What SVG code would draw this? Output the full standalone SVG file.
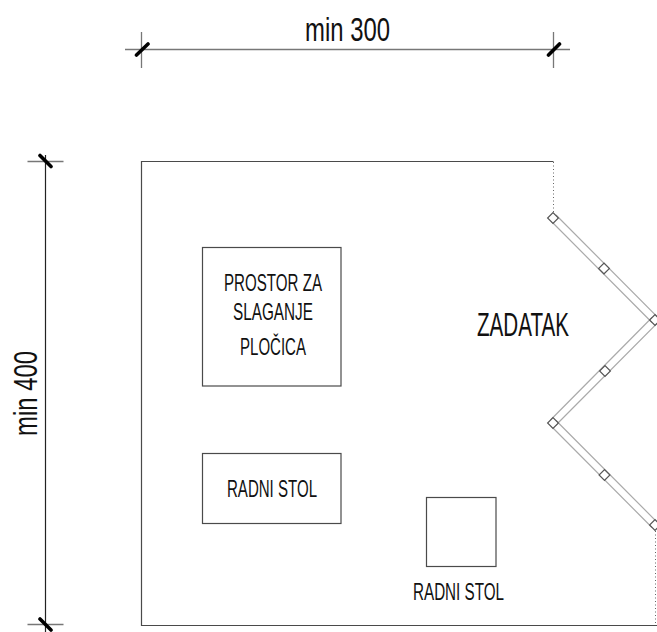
<svg xmlns="http://www.w3.org/2000/svg" width="657" height="632" viewBox="0 0 657 632">
<style>
.wall{fill:none;stroke:#4a4a4a;stroke-width:1.2}
.dim{fill:none;stroke:#777;stroke-width:1.3}
.dimd{fill:none;stroke:#222;stroke-width:1.2}
.tick{fill:none;stroke:#000;stroke-width:3.6;stroke-linecap:round}
.dot{fill:none;stroke:#666;stroke-width:1;stroke-dasharray:1 2.5}
.leaf{fill:none;stroke:#aaa;stroke-width:1.2}
.hinge{fill:#fff;stroke:#555;stroke-width:1.2}
text{font-family:"Liberation Sans",Arial,sans-serif;fill:#111;text-anchor:start}
.big{font-size:33px}
.lab{font-size:24px}
</style>
<rect width="657" height="632" fill="#fff"/>
<g id="room"><path class="wall" d="M553.500 161.500H141.500V625.500H657"/></g>
<g id="connectors">
<path class="dim" d="M125 49.500H570M141.500 32V68M553.500 32V68"/>
<path class="tick" d="M136.500 55L148 44M548.500 55L559.500 44"/>
<path class="dimd" d="M45.500 155V632"/>
<path class="dim" d="M27.500 161.500H63.500M27.500 624.500H63.500"/>
<path class="tick" d="M40 155.500L51 166.500M40 619L51 630"/>
<path class="dot" d="M553.500 162V212M655.500 531V625"/>
<path class="leaf" d="M556 215L657 316.500M551 221L652 322.500M657 323.500L555.500 425.500M652 317.500L550.500 420M556 420.500L657 522M551 426L652 527.500"/>
</g>
<g id="hinges">
<rect class="hinge" x="-3.800" y="-3.800" width="7.600" height="7.600" transform="translate(553 218) rotate(45)"/>
<rect class="hinge" x="-3.800" y="-3.800" width="7.600" height="7.600" transform="translate(604 268.500) rotate(45)"/>
<rect class="hinge" x="-3.800" y="-3.800" width="7.600" height="7.600" transform="translate(655 320) rotate(45)"/>
<rect class="hinge" x="-3.800" y="-3.800" width="7.600" height="7.600" transform="translate(605 371) rotate(45)"/>
<rect class="hinge" x="-3.800" y="-3.800" width="7.600" height="7.600" transform="translate(553 423) rotate(45)"/>
<rect class="hinge" x="-3.800" y="-3.800" width="7.600" height="7.600" transform="translate(604.500 475) rotate(45)"/>
<rect class="hinge" x="-3.800" y="-3.800" width="7.600" height="7.600" transform="translate(655 525) rotate(45)"/>
</g>
<g id="node-prostor"><rect class="wall" x="202.500" y="247.500" width="138.500" height="138.500"/>
<text class="lab" x="224" y="291" textLength="98" lengthAdjust="spacingAndGlyphs">PROSTOR ZA</text>
<text class="lab" x="233" y="320" textLength="80" lengthAdjust="spacingAndGlyphs">SLAGANJE</text>
<text class="lab" x="240" y="355" textLength="66" lengthAdjust="spacingAndGlyphs">PLOČICA</text></g>
<g id="node-stol1"><rect class="wall" x="202.500" y="453.500" width="138.500" height="70"/>
<text class="lab" x="227" y="497" textLength="90" lengthAdjust="spacingAndGlyphs">RADNI STOL</text></g>
<g id="node-stol2"><rect class="wall" x="426.500" y="497.500" width="69.500" height="69"/>
<text class="lab" x="413" y="600" textLength="91" lengthAdjust="spacingAndGlyphs">RADNI STOL</text></g>
<g id="labels">
<text class="big" x="305" y="41" textLength="85" lengthAdjust="spacingAndGlyphs">min 300</text>
<text class="big" x="477" y="336" textLength="92" lengthAdjust="spacingAndGlyphs">ZADATAK</text>
<text class="big" transform="translate(37 436) rotate(-90)" textLength="85" lengthAdjust="spacingAndGlyphs">min 400</text>
</g>
</svg>
